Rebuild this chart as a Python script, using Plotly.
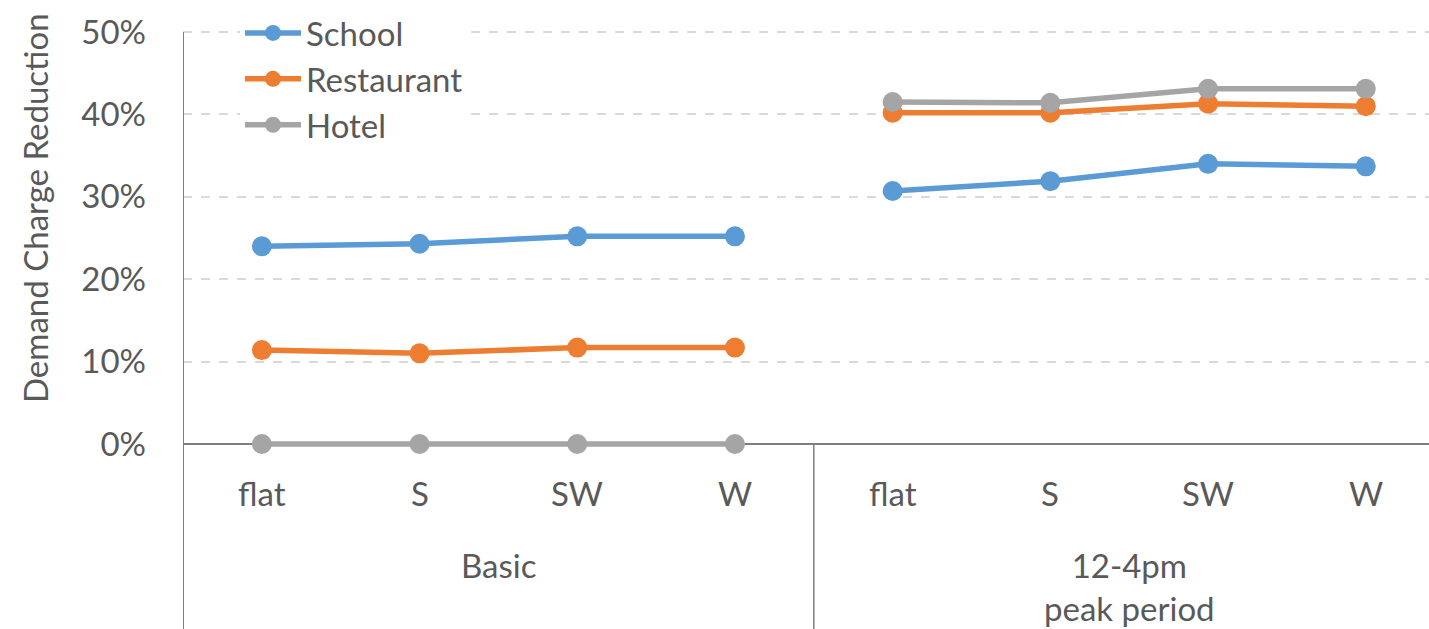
import plotly.graph_objects as go

groups = ["Basic", "12-4pm<br>peak period"]
categories = ["flat", "S", "SW", "W"]
series_names = ["School", "Restaurant", "Hotel"]
school_basic = [0.240, 0.243, 0.252, 0.252]
school_peak = [0.307, 0.319, 0.340, 0.337]
restaurant_basic = [0.114, 0.110, 0.117, 0.117]
restaurant_peak = [0.402, 0.402, 0.413, 0.410]
hotel_basic = [0.0, 0.0, 0.0, 0.0]
hotel_peak = [0.415, 0.414, 0.431, 0.431]
y_ticks = [0, 0.1, 0.2, 0.3, 0.4, 0.5]
colors = ["#5B9BD5", "#ED7D31", "#A5A5A5"]

FONT = "Lato"
TXT = "#595959"
FS = 33

W, H = 1429, 629
PLOT_LEFT, PLOT_TOP, PLOT_BOTTOM = 183, 28, 450   # page px
ZERO_Y, TOP_Y = 444, 32                           # page px of 0% and 50%
L = PLOT_LEFT
T = PLOT_TOP
B = H - PLOT_BOTTOM
plot_h = PLOT_BOTTOM - PLOT_TOP
plot_w = W - L
step = 157.7


def py(page_y):
    return (PLOT_BOTTOM - page_y) / plot_h


def px(page_x):
    return (page_x - PLOT_LEFT) / plot_w


n = len(categories)
x_basic = list(range(n))
x_peak = list(range(n, 2 * n))
xs = x_basic + [None] + x_peak

data = [(school_basic, school_peak), (restaurant_basic, restaurant_peak), (hotel_basic, hotel_peak)]

fig = go.Figure()
for name, (b, p), c in zip(series_names, data, colors):
    fig.add_trace(go.Scatter(
        x=xs, y=b + [None] + p, name=name, mode="lines+markers",
        line=dict(color=c, width=5.5), marker=dict(color=c, size=20),
        connectgaps=False, cliponaxis=False,
    ))

xmin = -0.5
xmax = xmin + plot_w / step
k = (ZERO_Y - TOP_Y) / 0.5
ymax = 0.5 + (TOP_Y - PLOT_TOP) / k
ymin = -(PLOT_BOTTOM - ZERO_Y) / k

axis_col = "#7F7F7F"

fig.update_layout(
    width=W, height=H,
    margin=dict(l=L, r=0, t=T, b=B),
    plot_bgcolor="white", paper_bgcolor="white",
    font=dict(family=FONT, size=FS, color=TXT),
    showlegend=True,
    legend=dict(
        x=px(240), y=py(5), xanchor="left", yanchor="top",
        bgcolor="white", font=dict(size=FS, color=TXT),
        itemwidth=56, tracegroupgap=0,
    ),
    xaxis=dict(range=[xmin, xmax], showticklabels=False, showgrid=False,
               zeroline=False, showline=False, fixedrange=True),
    yaxis=dict(range=[ymin, ymax], tickvals=y_ticks, tickformat=".0%",
               showgrid=True, gridcolor="#D9D9D9", griddash="dash", gridwidth=1.5,
               zeroline=True, zerolinecolor=axis_col, zerolinewidth=2,
               showline=False,
               ticks="", ticklabelstandoff=36,
               tickfont=dict(size=FS, color=TXT)),
)

# y-axis title
fig.add_annotation(text="Demand Charge Reduction", xref="paper", yref="paper",
                   x=px(35), y=py(208), textangle=-90,
                   showarrow=False, xanchor="center", yanchor="middle",
                   font=dict(size=FS, color=TXT))

# left vertical line
fig.add_shape(type="line", xref="x", yref="paper", x0=xmin, x1=xmin,
              y0=py(TOP_Y), y1=py(H),
              line=dict(color=axis_col, width=2))
# group divider
fig.add_shape(type="line", xref="x", yref="paper", x0=n - 0.5, x1=n - 0.5,
              y0=py(ZERO_Y), y1=py(H),
              line=dict(color=axis_col, width=1.5))

# category labels
for gi, g in enumerate(groups):
    for ci, cat in enumerate(categories):
        fig.add_annotation(text=cat, x=gi * n + ci, xref="x", yref="paper",
                           y=py(493), showarrow=False,
                           yanchor="middle", font=dict(size=FS, color=TXT))
    gy = py(565) if "<br>" not in g else py(586)
    fig.add_annotation(text=g, x=gi * n + (n - 1) / 2, xref="x", yref="paper",
                       y=gy, showarrow=False, yanchor="middle",
                       font=dict(size=FS, color=TXT))

fig.write_html(
    "out.html",
    config={"displayModeBar": False},
    post_script="document.body.style.margin='0';document.body.style.overflow='hidden';",
)
